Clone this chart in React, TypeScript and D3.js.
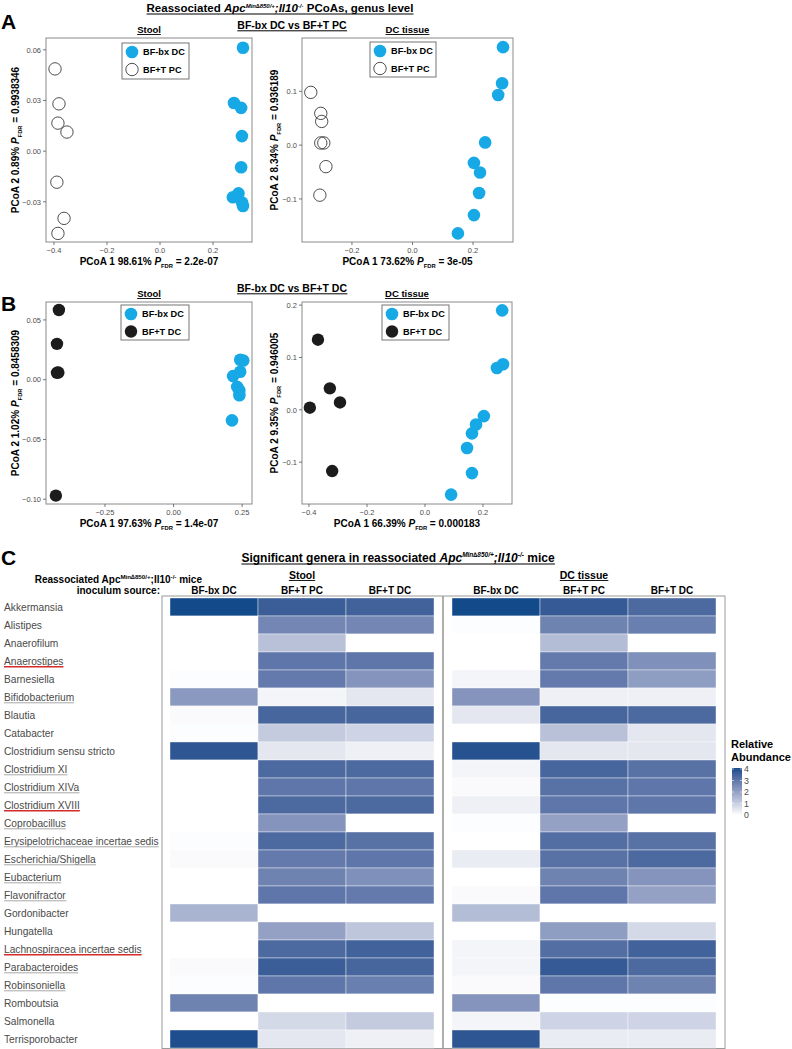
import * as d3 from 'd3';
import { useLayoutEffect, useRef, useState } from 'react';

const FONT = "'Liberation Sans', Arial, Helvetica, sans-serif";
const CYAN = '#17a9e6';
const DARK = '#1c1c1c';

// ---- PCoA points [PCoA1, PCoA2] ----
const aStoolBx = [[0.313, 0.0612], [0.279, 0.0285], [0.306, 0.0256], [0.309, 0.0089], [0.306, -0.0095], [0.275, -0.0273], [0.296, -0.025], [0.31, -0.0305], [0.313, -0.0325]];
const aStoolPc = [[-0.396, 0.0487], [-0.381, 0.028], [-0.385, 0.0166], [-0.351, 0.0113], [-0.389, -0.0184], [-0.362, -0.0398], [-0.385, -0.0487]];
const aTissueBx = [[0.299, 0.182], [0.296, 0.115], [0.283, 0.093], [0.24, 0.005], [0.203, -0.033], [0.223, -0.051], [0.22, -0.089], [0.203, -0.13], [0.15, -0.164]];
const aTissuePc = [[-0.336, 0.098], [-0.303, 0.059], [-0.3, 0.044], [-0.303, 0.004], [-0.293, 0.004], [-0.286, -0.04], [-0.306, -0.093]];
const bStoolBx = [[0.243, 0.0167], [0.254, 0.016], [0.243, 0.0067], [0.217, 0.003], [0.232, -0.006], [0.24, -0.009], [0.24, -0.013], [0.213, -0.034]];
const bStoolDc = [[-0.418, 0.0583], [-0.425, 0.03], [-0.425, 0.0058], [-0.42, 0.006], [-0.429, -0.097]];
const bTissueBx = [[0.266, 0.19], [0.269, 0.087], [0.248, 0.08], [0.203, -0.012], [0.176, -0.028], [0.162, -0.045], [0.145, -0.073], [0.162, -0.121], [0.09, -0.162]];
const bTissueDc = [[-0.369, 0.134], [-0.328, 0.041], [-0.293, 0.014], [-0.397, 0.004], [-0.32, -0.117]];

// ---- heatmap ----
const genera = ['Akkermansia', 'Alistipes', 'Anaerofilum', 'Anaerostipes', 'Barnesiella', 'Bifidobacterium', 'Blautia', 'Catabacter', 'Clostridium sensu stricto', 'Clostridium XI', 'Clostridium XIVa', 'Clostridium XVIII', 'Coprobacillus', 'Erysipelotrichaceae incertae sedis', 'Escherichia/Shigella', 'Eubacterium', 'Flavonifractor', 'Gordonibacter', 'Hungatella', 'Lachnospiracea incertae sedis', 'Parabacteroides', 'Robinsoniella', 'Romboutsia', 'Salmonella', 'Terrisporobacter'];
// '' none, 'g' gray underline, 'r' red underline
const generaMark = ['', '', '', 'r', '', 'g', '', '', '', 'g', 'g', 'r', 'g', 'g', 'g', 'g', 'g', '', '', 'r', 'g', 'g', '', '', ''];
const groups = ['BF-bx DC', 'BF+T PC', 'BF+T DC'];
const stoolBx = [4.1, 0, 0, 0, 0.05, 2.2, 0.1, 0.05, 3.8, 0, 0, 0, 0, 0.05, 0.1, 0, 0, 1.6, 0, 0, 0.1, 0.05, 2.7, 0, 4.0];
const stoolPc = [3.6, 2.6, 1.3, 3.0, 2.9, 0.2, 3.4, 1.1, 0.5, 3.3, 3.0, 3.3, 2.3, 3.3, 2.9, 2.7, 3.0, 0, 2.0, 3.3, 3.6, 3.0, 0, 0.8, 0.5];
const stoolDc = [3.5, 2.6, 0, 3.0, 2.3, 0.5, 3.4, 0.9, 0.3, 3.3, 3.0, 3.3, 0, 3.1, 3.0, 2.4, 2.9, 0, 1.2, 3.5, 3.4, 2.8, 0, 1.1, 0.3];
const tissueBx = [4.1, 0.05, 0, 0, 0.2, 2.3, 0.5, 0, 3.9, 0.2, 0.1, 0.3, 0.05, 0, 0.4, 0, 0.1, 1.4, 0, 0.2, 0.2, 0.1, 2.3, 0.2, 3.8];
const tissuePc = [3.7, 2.7, 1.4, 2.9, 2.9, 0.3, 3.4, 1.3, 0.5, 3.4, 3.1, 3.0, 2.0, 3.2, 3.1, 2.7, 3.0, 0, 2.1, 3.2, 3.7, 3.0, 0.05, 0.9, 0.4];
const tissueDc = [3.3, 2.8, 0, 2.4, 2.1, 0.3, 3.3, 0.5, 0.5, 3.1, 3.0, 3.0, 0, 3.1, 3.3, 2.3, 2.0, 0, 0.8, 3.5, 3.3, 2.7, 0.05, 0.9, 0.4];
const legendTicks = [0, 1, 2, 3, 4];

const color = d3.scaleLinear<string>().domain([0, 4.1]).range(['#ffffff', '#134a8a']).interpolate(d3.interpolateLab).clamp(true);

type Pt = number[];

function ULine({ x, y, anchor = 'start', stroke = '#000', sw = 1, off = 2, children, ...rest }: any) {
    const ref = useRef<SVGTextElement>(null);
    const [bb, setBb] = useState<{ x: number; w: number } | null>(null);
    useLayoutEffect(() => {
        if (ref.current) {
            const b = ref.current.getBBox();
            setBb({ x: b.x, w: b.width });
        }
    }, []);
    return (
        <g>
            <text ref={ref} x={x} y={y} textAnchor={anchor} {...rest}>
                {children}
            </text>
            {bb && <line x1={bb.x} x2={bb.x + bb.w} y1={y + off} y2={y + off} stroke={stroke} strokeWidth={sw} />}
        </g>
    );
}

function Pfdr({ pre, val }: { pre: string; val: string }) {
    return (
        <>
            <tspan>{pre} </tspan>
            <tspan fontStyle="italic">P</tspan>
            <tspan fontSize="5.8" dy="2.5">FDR</tspan>
            <tspan dy="-2.5">{' =  ' + val}</tspan>
        </>
    );
}

type ScatterProps = {
    box: [number, number, number, number];
    xDom: [number, number];
    yDom: [number, number];
    xTicks: number[];
    yTicks: number[];
    xFmt: string;
    yFmt: string;
    title: string;
    bx: Pt[];
    other: Pt[];
    otherFilled: boolean;
    otherLabel: string;
    legend: [number, number, number, number];
    xLab: [string, string];
    yLab: [string, string];
    yLabX: number;
};

function Scatter(p: ScatterProps) {
    const [l, t, r, b] = p.box;
    const x = d3.scaleLinear().domain(p.xDom).range([l, r]);
    const y = d3.scaleLinear().domain(p.yDom).range([b, t]);
    const xf = d3.format(p.xFmt);
    const yf = d3.format(p.yFmt);
    const [lx, ly, lx2, ly2] = p.legend;
    return (
        <g fontFamily={FONT}>
            <ULine x={(l + r) / 2} y={t - 5} anchor="middle" fontSize="9.5" fontWeight="bold" off={1.5} sw={0.9}>
                {p.title}
            </ULine>
            <rect x={l} y={t} width={r - l} height={b - t} fill="#fff" stroke="#8a8a8a" strokeWidth={1} />
            {p.xTicks.map((v) => (
                <g key={'x' + v}>
                    <line x1={x(v)} x2={x(v)} y1={b} y2={b + 3} stroke="#555" strokeWidth={0.8} />
                    <text x={x(v)} y={b + 10.5} textAnchor="middle" fontSize="7.5" fill="#4d4d4d">
                        {xf(v)}
                    </text>
                </g>
            ))}
            {p.yTicks.map((v) => (
                <g key={'y' + v}>
                    <line x1={l - 3} x2={l} y1={y(v)} y2={y(v)} stroke="#555" strokeWidth={0.8} />
                    <text x={l - 5} y={y(v) + 2.7} textAnchor="end" fontSize="7.5" fill="#4d4d4d">
                        {yf(v)}
                    </text>
                </g>
            ))}
            {p.other.map((d, i) => (
                <circle key={'o' + i} cx={x(d[0])} cy={y(d[1])} r={6.2}
                    fill={p.otherFilled ? DARK : 'none'} stroke={p.otherFilled ? 'none' : '#222'} strokeWidth={0.8} />
            ))}
            {p.bx.map((d, i) => (
                <circle key={'b' + i} cx={x(d[0])} cy={y(d[1])} r={6.3} fill={CYAN} />
            ))}
            <rect x={lx} y={ly} width={lx2 - lx} height={ly2 - ly} fill="#fff" stroke="#666" strokeWidth={0.9} />
            <circle cx={lx + 10} cy={ly + 9} r={6.3} fill={CYAN} />
            <circle cx={lx + 10} cy={ly + 26.5} r={6.2} fill={p.otherFilled ? DARK : 'none'} stroke={p.otherFilled ? 'none' : '#222'} strokeWidth={0.8} />
            <text x={lx + 21} y={ly + 12.3} fontSize="9.2" fontWeight="bold">BF-bx DC</text>
            <text x={lx + 21} y={ly + 29.8} fontSize="9.2" fontWeight="bold">{p.otherLabel}</text>
            <text x={(l + r) / 2} y={b + 23} textAnchor="middle" fontSize="10" fontWeight="bold">
                <Pfdr pre={p.xLab[0]} val={p.xLab[1]} />
            </text>
            <text transform={`translate(${p.yLabX},${(t + b) / 2}) rotate(-90)`} textAnchor="middle" fontSize="10" fontWeight="bold">
                <Pfdr pre={p.yLab[0]} val={p.yLab[1]} />
            </text>
        </g>
    );
}

function Heatmap() {
    const rows = d3.scaleBand().domain(genera).range([598, 1048]);
    const stoolX = d3.scaleBand().domain(groups).range([170, 434]);
    const tissueX = d3.scaleBand().domain(groups).range([452, 716]);
    const stool = [stoolBx, stoolPc, stoolDc];
    const tissue = [tissueBx, tissuePc, tissueDc];
    const leg = d3.scaleLinear().domain([0, 4]).range([815, 769]);
    return (
        <g fontFamily={FONT}>
            <rect x={162} y={596} width={563} height={452.5} fill="#fff" stroke="#9a9a9a" strokeWidth={1} />
            <line x1={443} x2={443} y1={596} y2={1049} stroke="#9a9a9a" strokeWidth={1.6} />
            {[stool, tissue].map((facet, fi) =>
                facet.map((vals, ci) =>
                    vals.map((v, ri) => (
                        <rect key={`${fi}-${ci}-${ri}`} x={(fi === 0 ? stoolX : tissueX)(groups[ci])!} y={rows(genera[ri])!}
                            width={stoolX.bandwidth()} height={rows.bandwidth()} fill={color(v)} stroke="#fff" strokeWidth={0.4} />
                    )),
                ),
            )}
            {genera.map((g, i) => {
                const yy = rows(g)! + rows.bandwidth() / 2 + 3.6;
                const m = generaMark[i];
                return m ? (
                    <ULine key={g} x={4} y={yy} fontSize="10.2" fill="#4a4a4a" off={2.2}
                        stroke={m === 'r' ? '#d42b2b' : '#a8a8a8'} sw={m === 'r' ? 1.5 : 1}>
                        {g}
                    </ULine>
                ) : (
                    <text key={g} x={4} y={yy} fontSize="10.2" fill="#4a4a4a">{g}</text>
                );
            })}
            {groups.map((g) => (
                <g key={g} fontSize="10" fontWeight="bold">
                    <text x={stoolX(g)! + stoolX.bandwidth() / 2} y={594} textAnchor="middle">{g}</text>
                    <text x={tissueX(g)! + tissueX.bandwidth() / 2} y={594} textAnchor="middle">{g}</text>
                </g>
            ))}
            <ULine x={302} y={579} anchor="middle" fontSize="10.5" fontWeight="bold" off={1.5} sw={0.9}>Stool</ULine>
            <ULine x={584} y={579} anchor="middle" fontSize="10.5" fontWeight="bold" off={1.5} sw={0.9}>DC tissue</ULine>
            <text x={202} y={583} textAnchor="end" fontSize="10" fontWeight="bold">
                <tspan>Reassociated Apc</tspan>
                <tspan fontSize="6.2" dy="-4">Min∆850/+</tspan>
                <tspan dy="4">;Il10</tspan>
                <tspan fontSize="6.2" dy="-4">-/-</tspan>
                <tspan dy="4"> mice</tspan>
            </text>
            <text x={160} y={594} textAnchor="end" fontSize="10" fontWeight="bold">inoculum source:</text>
            {/* legend */}
            <text x={731} y={748} fontSize="11" fontWeight="bold">Relative</text>
            <text x={731} y={761} fontSize="11" fontWeight="bold">Abundance</text>
            <defs>
                <linearGradient id="lg" x1="0" x2="0" y1="1" y2="0">
                    {d3.range(0, 1.001, 0.1).map((f) => (
                        <stop key={f} offset={f} stopColor={color(f * 4.05)} />
                    ))}
                </linearGradient>
            </defs>
            <rect x={732} y={768} width={10} height={47} fill="url(#lg)" />
            {legendTicks.map((v) => (
                <g key={v}>
                    <line x1={732} x2={734} y1={leg(v)} y2={leg(v)} stroke="#fff" strokeWidth={0.6} />
                    <line x1={740} x2={742} y1={leg(v)} y2={leg(v)} stroke="#fff" strokeWidth={0.6} />
                    <text x={744} y={leg(v) + 3.2} fontSize="8.8" fill="#4d4d4d">{v}</text>
                </g>
            ))}
        </g>
    );
}

export default function App() {
    return (
        <svg width={792} height={1049} style={{ position: 'absolute', left: 0, top: 0, background: '#fff' }} fontFamily={FONT}>
            <rect width={792} height={1049} fill="#fff" />
            <ULine x={280} y={12} anchor="middle" fontSize="11.5" fontWeight="bold" off={2} sw={1.1}>
                <tspan>Reassociated </tspan>
                <tspan fontStyle="italic">Apc</tspan>
                <tspan fontSize="6" fontStyle="italic" dy="-4.5">Min∆850/+</tspan>
                <tspan fontStyle="italic" dy="4.5">;Il10</tspan>
                <tspan fontSize="6" fontStyle="italic" dy="-4.5">-/-</tspan>
                <tspan dy="4.5"> PCoAs, genus level</tspan>
            </ULine>
            <text x={1} y={29} fontSize="21" fontWeight="bold">A</text>
            <ULine x={292} y={29} anchor="middle" fontSize="10.5" fontWeight="bold" off={1.8} sw={1}>BF-bx DC vs BF+T PC</ULine>
            <Scatter box={[46, 38, 252, 242]} xDom={[-0.43, 0.347]} yDom={[-0.0538, 0.067]}
                xTicks={[-0.4, -0.2, 0, 0.2]} yTicks={[-0.03, 0, 0.03, 0.06]} xFmt=".1f" yFmt=".2f"
                title="Stool" bx={aStoolBx} other={aStoolPc} otherFilled={false} otherLabel="BF+T PC"
                legend={[122, 43, 189, 79]} xLab={['PCoA 1 98.61%', '2.2e-07']} yLab={['PCoA 2 0.89%', '0.9938346']} yLabX={19} />
            <Scatter box={[302, 38, 513, 242]} xDom={[-0.365, 0.332]} yDom={[-0.18, 0.199]}
                xTicks={[-0.2, 0, 0.2]} yTicks={[-0.1, 0, 0.1]} xFmt=".1f" yFmt=".1f"
                title="DC tissue" bx={aTissueBx} other={aTissuePc} otherFilled={false} otherLabel="BF+T PC"
                legend={[370, 42, 436, 77]} xLab={['PCoA 1 73.62%', '3e-05']} yLab={['PCoA 2 8.34%', '0.936189']} yLabX={278} />
            <text x={1} y={311} fontSize="21" fontWeight="bold">B</text>
            <ULine x={292} y={292} anchor="middle" fontSize="10.5" fontWeight="bold" off={1.8} sw={1}>BF-bx DC vs BF+T DC</ULine>
            <Scatter box={[46, 302, 252, 504]} xDom={[-0.465, 0.286]} yDom={[-0.104, 0.065]}
                xTicks={[-0.25, 0, 0.25]} yTicks={[-0.1, -0.05, 0, 0.05]} xFmt=".2f" yFmt=".2f"
                title="Stool" bx={bStoolBx} other={bStoolDc} otherFilled={true} otherLabel="BF+T DC"
                legend={[121, 305, 189, 340]} xLab={['PCoA 1 97.63%', '1.4e-07']} yLab={['PCoA 2 1.02%', '0.8458309']} yLabX={19} />
            <Scatter box={[302, 302, 512, 504]} xDom={[-0.424, 0.3]} yDom={[-0.18, 0.206]}
                xTicks={[-0.4, -0.2, 0, 0.2]} yTicks={[-0.1, 0, 0.1, 0.2]} xFmt=".1f" yFmt=".1f"
                title="DC tissue" bx={bTissueBx} other={bTissueDc} otherFilled={true} otherLabel="BF+T DC"
                legend={[382, 305, 449, 340]} xLab={['PCoA 1 66.39%', '0.000183']} yLab={['PCoA 2 9.35%', '0.946005']} yLabX={278} />
            <text x={1} y={565} fontSize="21" fontWeight="bold">C</text>
            <ULine x={398} y={562} anchor="middle" fontSize="12" fontWeight="bold" off={2} sw={1.1}>
                <tspan>Significant genera in reassociated </tspan>
                <tspan fontStyle="italic">Apc</tspan>
                <tspan fontSize="6.5" fontStyle="italic" dy="-5">Min∆850/+</tspan>
                <tspan fontStyle="italic" dy="5">;Il10</tspan>
                <tspan fontSize="6.5" fontStyle="italic" dy="-5">-/-</tspan>
                <tspan dy="5"> mice</tspan>
            </ULine>
            <Heatmap />
        </svg>
    );
}
